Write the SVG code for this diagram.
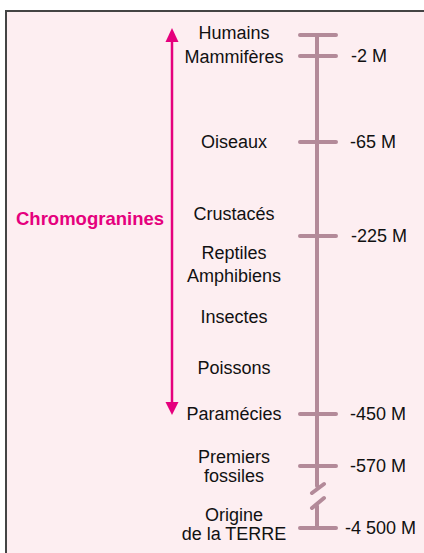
<svg xmlns="http://www.w3.org/2000/svg" width="424" height="553" viewBox="0 0 424 553">
<defs>
<style>
.lbl{font-family:"Liberation Sans",Arial,sans-serif;font-size:18px;fill:#111;text-anchor:middle}
.age{font-family:"Liberation Sans",Arial,sans-serif;font-size:18px;fill:#111}
.chr{font-family:"Liberation Sans",Arial,sans-serif;font-size:18.5px;font-weight:bold;fill:#e5007d}
.axis{stroke:#b38a99;stroke-width:4;stroke-linecap:round;fill:none}
.arr{stroke:#e5007d;stroke-width:2.5;fill:none}
</style>
</defs>
<rect x="0" y="0" width="424" height="553" fill="#fff"/>
<rect x="6" y="11" width="430" height="560" fill="#fdeef1" stroke="#444" stroke-width="2"/>
<g id="connectors">
<line class="arr" x1="172" y1="40" x2="172" y2="402"/>
<path d="M172,28 L165.5,42 L178.5,42 Z" fill="#e5007d"/>
<path d="M172,415 L165.5,402 L178.5,402 Z" fill="#e5007d"/>
<path class="axis" d="M317,35 V486 M317,506 V528"/>
<path class="axis" d="M300,35 H336 M300,56 H336 M300,142 H336 M300,236 H336 M300,414 H336 M300,466 H336 M300,528 H336"/>
<path class="axis" d="M312,493 L324,484 M312,508 L324,498"/>
</g>
<g id="chromogranines"><text class="chr" x="16" y="225">Chromogranines</text></g>
<g id="humains"><text class="lbl" x="234" y="39">Humains</text></g>
<g id="mammiferes"><text class="lbl" x="234" y="63">Mammifères</text><text class="age" x="351" y="62">-2 M</text></g>
<g id="oiseaux"><text class="lbl" x="234" y="148">Oiseaux</text><text class="age" x="350" y="148">-65 M</text></g>
<g id="crustaces"><text class="lbl" x="234" y="220">Crustacés</text><text class="age" x="351" y="242">-225 M</text></g>
<g id="reptiles"><text class="lbl" x="234" y="259">Reptiles</text><text class="lbl" x="234" y="282">Amphibiens</text></g>
<g id="insectes"><text class="lbl" x="234" y="323">Insectes</text></g>
<g id="poissons"><text class="lbl" x="234" y="374">Poissons</text></g>
<g id="paramecies"><text class="lbl" x="234" y="420">Paramécies</text><text class="age" x="350" y="420">-450 M</text></g>
<g id="fossiles"><text class="lbl" x="234" y="463">Premiers</text><text class="lbl" x="234" y="482">fossiles</text><text class="age" x="350" y="472">-570 M</text></g>
<g id="origine"><text class="lbl" x="234" y="521">Origine</text><text class="lbl" x="234" y="540">de la TERRE</text><text class="age" x="345" y="534">-4 500 M</text></g>
</svg>
